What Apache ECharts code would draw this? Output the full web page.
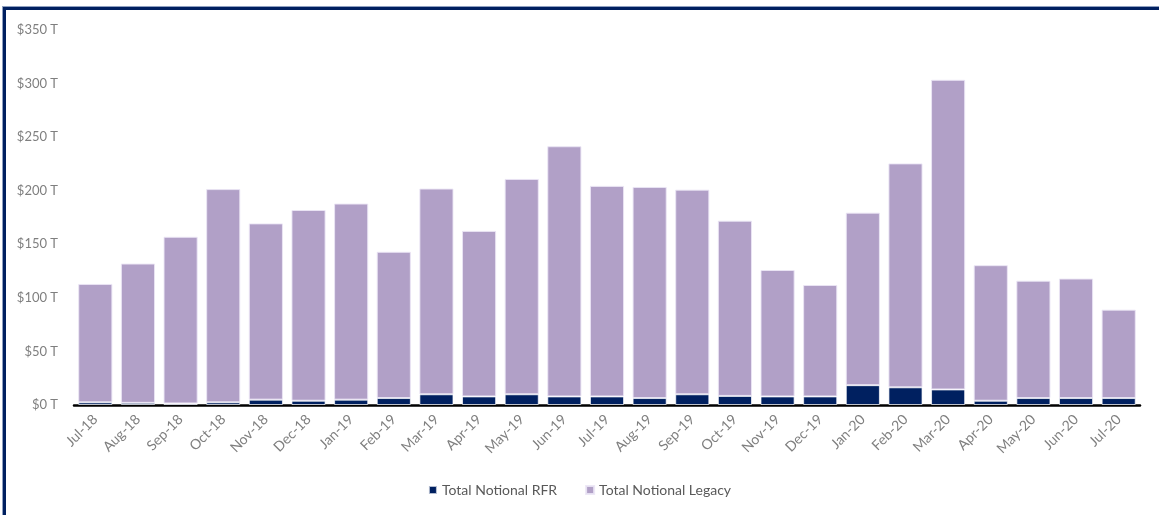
<!DOCTYPE html>
<html>
<head>
<meta charset="utf-8">
<script src="https://cdn.jsdelivr.net/npm/echarts@6/dist/echarts.min.js"></script>
<style>
  html, body { margin: 0; padding: 0; background: #fff; overflow: hidden; }
  #chart { position: absolute; left: 0; top: 0; width: 1159px; height: 515px; }
  #frame { position: absolute; left: 3px; top: 7px; width: 3000px; height: 3000px;
           border-left: 3px solid #002060; border-top: 3px solid #002060;
           box-shadow: -1px -1px 0 #8fa0c0; pointer-events: none; }
</style>
</head>
<body>
<div id="chart"></div>
<div id="frame"></div>
<script>
const months = ['Jul-18','Aug-18','Sep-18','Oct-18','Nov-18','Dec-18','Jan-19','Feb-19','Mar-19','Apr-19','May-19','Jun-19','Jul-19','Aug-19','Sep-19','Oct-19','Nov-19','Dec-19','Jan-20','Feb-20','Mar-20','Apr-20','May-20','Jun-20','Jul-20'];
const rfr = [2.5, 2, 1.5, 2.5, 5, 4, 5, 6.5, 10, 8, 10, 8, 8, 6.5, 10, 8.5, 8, 8, 18.5, 16.5, 14.5, 4, 6.5, 6.5, 6.5];
const legacy = [110.5, 130, 155.5, 199, 164.5, 178, 183, 136.5, 192, 154.5, 201, 233.5, 196.5, 197, 191, 163.5, 118, 104, 161, 209, 289, 126.5, 109.5, 111.5, 82.5];
const yTicks = { min: 0, max: 350, interval: 50 };
const seriesNames = ['Total Notional RFR', 'Total Notional Legacy'];

const FONT = 'Lato, "Open Sans", sans-serif';
const chart = echarts.init(document.getElementById('chart'), null, { renderer: 'canvas' });
chart.setOption({
  animation: false,
  grid: { left: 74, right: 19, top: 30, bottom: 110, containLabel: false },
  legend: {
    bottom: 13, left: 'center',
    icon: 'rect', itemWidth: 8, itemHeight: 8, itemGap: 28,
    textStyle: { color: '#595959', fontSize: 14, fontFamily: FONT },
    data: seriesNames
  },
  xAxis: {
    type: 'category',
    data: months,
    axisLine: { show: true, lineStyle: { color: '#000', width: 2.5 } },
    axisTick: { show: false },
    axisLabel: { rotate: 45, color: '#7F7F7F', fontSize: 14, fontFamily: FONT, margin: 12, interval: 0 }
  },
  yAxis: {
    type: 'value',
    min: yTicks.min, max: yTicks.max, interval: yTicks.interval,
    axisLine: { show: false },
    axisTick: { show: false },
    splitLine: { show: false },
    axisLabel: { color: '#7F7F7F', fontSize: 13, fontFamily: FONT, margin: 16,
      formatter: v => '$' + v + ' T' }
  },
  series: [
    { name: seriesNames[0], type: 'bar', stack: 'total', data: rfr, barWidth: '80%',
      itemStyle: { color: '#002060', borderColor: 'rgba(255,255,255,0.7)', borderWidth: 1 } },
    { name: seriesNames[1], type: 'bar', stack: 'total', data: legacy, barWidth: '80%',
      itemStyle: { color: '#B1A0C7', borderColor: 'rgba(235,230,245,0.9)', borderWidth: 1 } }
  ]
});
</script>
</body>
</html>
